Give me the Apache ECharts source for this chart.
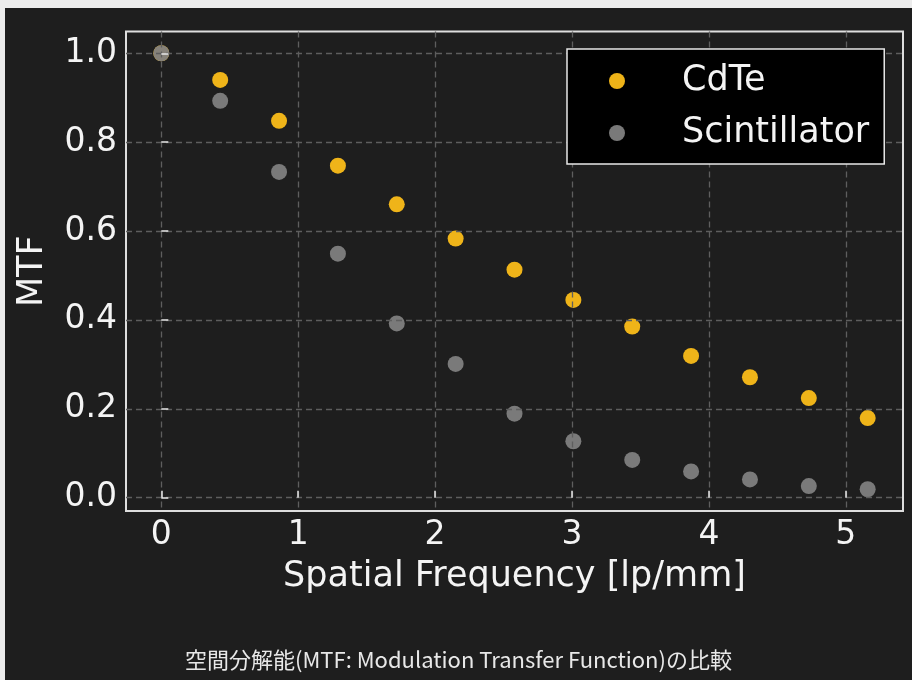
<!DOCTYPE html>
<html>
<head>
<meta charset="utf-8">
<script src="https://cdn.jsdelivr.net/npm/echarts@6/dist/echarts.min.js"></script>
<style>
html,body{margin:0;padding:0;background:#ececec;}
#chart{position:absolute;left:5px;top:8px;width:907px;height:672px;}
</style>
</head>
<body>
<div id="chart"></div>
<script>
const freq = [0, 0.43, 0.86, 1.29, 1.72, 2.15, 2.58, 3.01, 3.44, 3.87, 4.30, 4.73, 5.16];
const cdte = [1.0, 0.94, 0.848, 0.747, 0.660, 0.583, 0.513, 0.445, 0.385, 0.319, 0.271, 0.224, 0.179];
const scint = [1.0, 0.893, 0.733, 0.549, 0.392, 0.301, 0.189, 0.127, 0.085, 0.059, 0.041, 0.026, 0.019];
const seriesNames = ['CdTe', 'Scintillator'];
const xName = 'Spatial Frequency [lp/mm]';
const yName = 'MTF';
const caption = '空間分解能(MTF: Modulation Transfer Function)の比較';

const chart = echarts.init(document.getElementById('chart'), null, {renderer: 'canvas'});
const font = "'DejaVu Sans', sans-serif";
const pair = (xs, ys) => xs.map((x, i) => [x, ys[i]]);
const option = {
  backgroundColor: '#1e1e1e',
  animation: false,
  title: {
    text: caption,
    left: 'center',
    top: 636,
    textStyle: {color: '#e8e8e8', fontSize: 22, fontWeight: 'normal', fontFamily: "'Noto Sans CJK JP', sans-serif"}
  },
  grid: {
    left: 121, top: 23.5, right: 9, bottom: 169,
    show: true, borderColor: '#dedede', borderWidth: 2, backgroundColor: 'transparent',
    containLabel: false
  },
  legend: {
    orient: 'vertical',
    left: 562, top: 41,
    padding: [12, 15, 11, 42],
    itemGap: 12,
    itemWidth: 16, itemHeight: 16,
    icon: 'circle',
    backgroundColor: '#000000',
    borderColor: '#e8e8e8', borderWidth: 1.5, borderRadius: 0,
    textStyle: {color: '#f4f4f4', fontSize: 35, fontFamily: font, lineHeight: 40, padding: [0, 0, 0, 52]},
    data: seriesNames
  },
  xAxis: {
    type: 'value',
    min: -0.258, max: 5.418,
    splitNumber: 5,
    z: 3,
    name: xName,
    nameLocation: 'middle',
    nameGap: 48,
    nameTextStyle: {color: '#f4f4f4', fontSize: 35, fontFamily: font},
    axisLine: {show: false},
    axisTick: {show: true, inside: true, length: 7, lineStyle: {color: '#e8e8e8', width: 1.5}},
    axisLabel: {color: '#f4f4f4', fontSize: 33, fontFamily: font, margin: 8, showMinLabel: false, showMaxLabel: false,
      formatter: v => String(Math.round(v))},
    splitLine: {show: true, showMinLine: false, showMaxLine: false, lineStyle: {color: '#5e5e5e', width: 1.3, type: [6, 4]}}
  },
  yAxis: {
    type: 'value',
    min: -0.030, max: 1.049,
    splitNumber: 5,
    z: 3,
    name: yName,
    nameLocation: 'middle',
    nameGap: 76,
    nameRotate: 90,
    nameTextStyle: {color: '#f4f4f4', fontSize: 35, fontFamily: font},
    axisLine: {show: false},
    axisTick: {show: true, inside: true, length: 7, lineStyle: {color: '#e8e8e8', width: 1.5}},
    axisLabel: {color: '#f4f4f4', fontSize: 33, fontFamily: font, margin: 9, showMinLabel: false, showMaxLabel: false,
      formatter: v => v.toFixed(1)},
    splitLine: {show: true, showMinLine: false, showMaxLine: false, lineStyle: {color: '#5e5e5e', width: 1.3, type: [6, 4]}}
  },
  series: [
    {name: seriesNames[0], type: 'scatter', symbolSize: 16, data: pair(freq, cdte),
      itemStyle: {color: '#fbbd19', opacity: 0.95}},
    {name: seriesNames[1], type: 'scatter', symbolSize: 16, data: pair(freq, scint),
      itemStyle: {color: '#808080', opacity: 0.95}}
  ]
};
chart.setOption(option);
</script>
</body>
</html>
